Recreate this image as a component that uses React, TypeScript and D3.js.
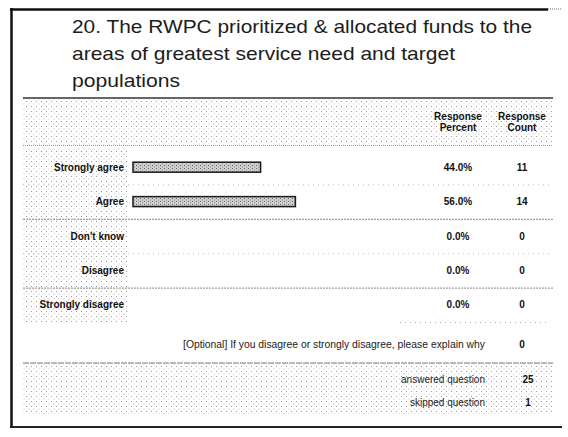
import React from "react";
import * as d3 from "d3";

const titleLines = [
  "20. The RWPC prioritized & allocated funds to the",
  "areas of greatest service need and target",
  "populations",
];
const titleWidths = [460, 383, 108];
const categories = ["Strongly agree", "Agree", "Don't know", "Disagree", "Strongly disagree"];
const percents = [44.0, 56.0, 0.0, 0.0, 0.0];
const counts = [11, 14, 0, 0, 0];
const headerPercent = ["Response", "Percent"];
const headerCount = ["Response", "Count"];
const optionalLabel = "[Optional] If you disagree or strongly disagree, please explain why";
const optionalCount = 0;
const summaryLabels = ["answered question", "skipped question"];
const summaryValues = [25, 1];

const W = 568;
const H = 437;

export default function App() {
  const x = d3.scaleLinear().domain([0, 100]).range([133, 423]);
  const y = d3.scaleBand<string>().domain(categories).range([150, 322]);
  const ySum = d3.scaleBand<string>().domain(summaryLabels).range([368, 414]);
  const textFont = "'Liberation Sans', Arial, sans-serif";
  const tStyle = { fontFamily: textFont, fontWeight: 700, fontSize: 10, fill: "#111" } as const;
  const pctX = 458;
  const cntX = 522;
  return (
    <div style={{ position: "absolute", left: 0, top: 0 }}>
      <svg width={W} height={H} style={{ display: "block", background: "#fff" }}>
        <defs>
          <pattern id="dots" width="5" height="5" patternUnits="userSpaceOnUse">
            <rect x="1" y="1" width="1" height="1" fill="#9a9a9a" />
            <rect x="3.5" y="3.5" width="1" height="1" fill="#c0c0c0" />
          </pattern>
          <pattern id="barfill" width="4" height="3" patternUnits="userSpaceOnUse">
            <rect width="4" height="3" fill="#cfcfcf" />
            <rect x="0" y="0" width="1" height="1" fill="#666" />
            <rect x="2" y="1.5" width="1" height="1" fill="#888" />
          </pattern>
        </defs>

        {/* frame */}
        <line x1={11.5} x2={11.5} y1={8} y2={428} stroke="#111" strokeWidth={2.5} />
        <line x1={10} x2={548} y1={9.5} y2={9.5} stroke="#111" strokeWidth={2.5} />
        <line x1={548} x2={562} y1={9} y2={9} stroke="#777" strokeWidth={1} strokeDasharray="1 1" />
        <line x1={10} x2={562} y1={427} y2={427} stroke="#222" strokeWidth={2} />

        {/* title */}
        {titleLines.map((t, i) => (
          <text
            key={t}
            x={72}
            y={33 + i * 27}
            textLength={titleWidths[i]}
            lengthAdjust="spacingAndGlyphs"
            style={{ fontFamily: textFont, fontSize: 19, fill: "#1c1c1c" }}
          >
            {t}
          </text>
        ))}

        {/* header */}
        <rect x={23} y={99} width={530} height={46} fill="url(#dots)" />
        <line x1={23} x2={553} y1={98} y2={98} stroke="#333" strokeWidth={1.5} />
        <line x1={23} x2={553} y1={145.5} y2={145.5} stroke="#999" strokeWidth={1} strokeDasharray="1 1" />
        {headerPercent.map((t, i) => (
          <text key={"hp" + i} x={pctX} y={120 + i * 11} textAnchor="middle" style={tStyle}>
            {t}
          </text>
        ))}
        {headerCount.map((t, i) => (
          <text key={"hc" + i} x={cntX} y={120 + i * 11} textAnchor="middle" style={tStyle}>
            {t}
          </text>
        ))}

        {/* label column background */}
        <rect x={23} y={148} width={104} height={174} fill="url(#dots)" />

        {/* rows */}
        {categories.map((c, i) => {
          const y0 = y(c)!;
          const cy = y0 + y.bandwidth() / 2;
          return (
            <g key={c}>
              {i > 0 && (
                <line
                  x1={23}
                  x2={553}
                  y1={y0 + 0.5}
                  y2={y0 + 0.5}
                  stroke={i === 2 || i === 4 ? "#888" : "#bbb"}
                  strokeWidth={1}
                  strokeDasharray={i === 2 || i === 4 ? "2 1" : "1 4"}
                />
              )}
              <text x={124} y={cy + 3.5} textAnchor="end" style={tStyle}>
                {c}
              </text>
              {percents[i] > 0 && (
                <rect
                  x={x(0)}
                  y={cy - 5}
                  width={x(percents[i]) - x(0)}
                  height={10}
                  fill="url(#barfill)"
                  stroke="#1a1a1a"
                  strokeWidth={1.5}
                />
              )}
              <text x={pctX} y={cy + 3.5} textAnchor="middle" style={tStyle}>
                {percents[i].toFixed(1) + "%"}
              </text>
              <text x={cntX} y={cy + 3.5} textAnchor="middle" style={tStyle}>
                {counts[i]}
              </text>
            </g>
          );
        })}
        <line x1={400} x2={550} y1={322.5} y2={322.5} stroke="#aaa" strokeWidth={1} strokeDasharray="1 4" />

        {/* optional row */}
        <text x={485} y={348} textAnchor="end" textLength={302} lengthAdjust="spacingAndGlyphs" style={{ ...tStyle, fontWeight: 400, fill: "#222" }}>
          {optionalLabel}
        </text>
        <text x={cntX} y={348} textAnchor="middle" style={tStyle}>
          {optionalCount}
        </text>

        {/* summary */}
        <rect x={23} y={364} width={530} height={50} fill="url(#dots)" />
        <line x1={23} x2={553} y1={363} y2={363} stroke="#777" strokeWidth={1.2} strokeDasharray="6 1" />
        {summaryLabels.map((s, i) => {
          const cy = ySum(s)! + ySum.bandwidth() / 2;
          return (
            <g key={s}>
              <text x={485} y={cy + 3.5} textAnchor="end" style={{ ...tStyle, fontWeight: 400, fill: "#222" }}>
                {s}
              </text>
              <text x={528} y={cy + 3.5} textAnchor="middle" style={tStyle}>
                {summaryValues[i]}
              </text>
            </g>
          );
        })}
      </svg>
    </div>
  );
}
